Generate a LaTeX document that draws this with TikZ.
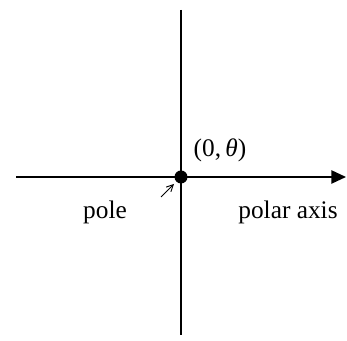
\documentclass[tikz,border=0pt]{standalone}
\usepackage{fontspec}
\setmainfont{Liberation Serif}
\usetikzlibrary{arrows.meta}
\begin{document}
\begin{tikzpicture}[x=0.75pt,y=-0.75pt,font=\fontsize{19}{22}\selectfont]
\useasboundingbox (0,0) rectangle (347,341);
\coordinate (top) at (181,10); \coordinate (bottom) at (181,335);
\coordinate (left) at (16,177); \coordinate (right) at (346,177);
\coordinate (pole) at (181,177);
\draw[line width=1.1pt] (top)--(bottom);
\draw[line width=1.1pt,-{Triangle[length=11pt,width=10pt]}] (left)--(right);
\fill (pole) circle (6.5);
\node[inner sep=0pt] (coord) at (220,150) {(0,\,\textit{θ})};
\node[inner sep=0pt] (polelabel) at (105,212) {pole};
\node[inner sep=0pt] (axislabel) at (288,212) {polar axis};
\coordinate (tail) at (161,197);
\draw[line width=0.7pt,-{Straight Barb[length=5pt,width=5pt]}] (tail)--(174,184);
\end{tikzpicture}
\end{document}
